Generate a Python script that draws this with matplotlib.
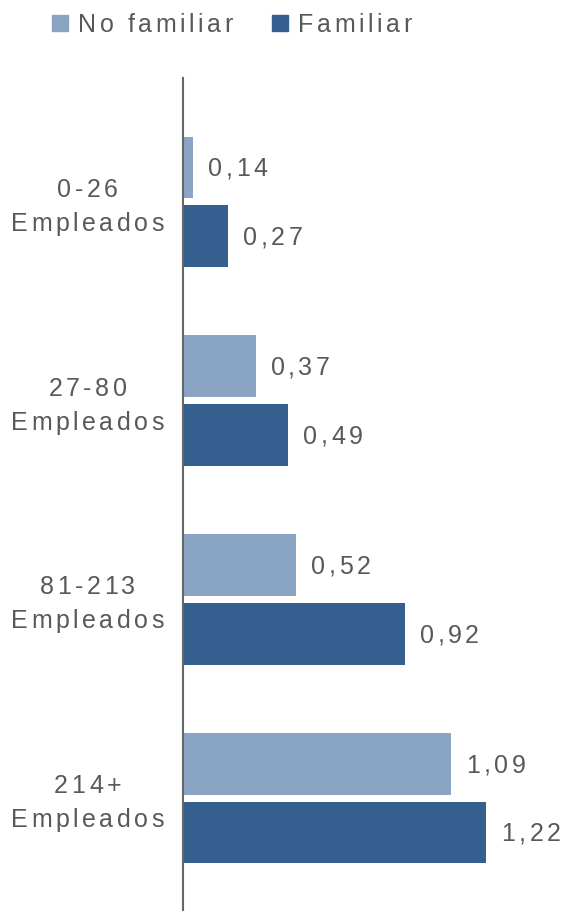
import matplotlib
matplotlib.use("Agg")
import matplotlib.pyplot as plt
from matplotlib import font_manager as fm
from matplotlib.ft2font import FT2Font
from matplotlib.transforms import offset_copy, IdentityTransform

categories = ["0-26\nEmpleados", "27-80\nEmpleados", "81-213\nEmpleados", "214+\nEmpleados"]
no_familiar = [0.14, 0.37, 0.52, 1.09]
familiar = [0.27, 0.49, 0.92, 1.22]
series_names = ["No familiar", "Familiar"]

light = "#8aa4c4"
dark = "#355f8f"
txt = "#595959"
FS = 18
SP = 3.5  # letter spacing in px
DPI = 100

fig = plt.figure(figsize=(5.68, 9.13), dpi=DPI)
ax = fig.add_axes([183 / 568, 3 / 913, 385 / 568, 832 / 913])

font_path = fm.findfont(fm.FontProperties(family="Liberation Sans"))
ft = FT2Font(font_path)
ft.set_size(FS, DPI)


def advances(s):
    return [ft.load_char(ord(c)).linearHoriAdvance / 65536 for c in s]


def spaced(x, y, s, transform, ha="left"):
    # draw text with letter spacing, y is the vertical centre
    adv = advances(s)
    total = sum(adv) + SP * (len(s) - 1)
    start = {"left": 0, "center": -total / 2, "right": -total}[ha]
    cap = 0.716 * FS * DPI / 72
    pos = start
    for c, a in zip(s, adv):
        tr = offset_copy(transform, fig=fig, x=pos, y=-cap / 2, units="dots")
        fig.text(x, y, c, transform=tr, fontsize=FS, family="Liberation Sans",
                 color=txt, ha="left", va="baseline")
        pos += a + SP


ys = list(range(len(categories)))
h = 0.31
off = 0.173
ax.barh([y - off for y in ys], no_familiar, height=h, color=light)
ax.barh([y + off for y in ys], familiar, height=h, color=dark)

ax.set_xlim(0.103, 1.52)
ax.set_ylim(3.563, -0.623)
for s in ["top", "right", "bottom"]:
    ax.spines[s].set_visible(False)
ax.spines["left"].set_color("#666666")
ax.spines["left"].set_linewidth(1.5)
ax.set_xticks([])
ax.set_yticks([])

lab_tr = offset_copy(ax.transData, fig=fig, x=15, y=0, units="dots")
for y, v in zip(ys, no_familiar):
    spaced(v, y - off, f"{v:.2f}".replace(".", ","), lab_tr)
for y, v in zip(ys, familiar):
    spaced(v, y + off, f"{v:.2f}".replace(".", ","), lab_tr)

# category labels, centred at x=87px
ident = IdentityTransform()
for y, lab in zip(ys, categories):
    l1, l2 = lab.split("\n")
    base = ax.transData.transform((0.2, y))[1]
    spaced(87.5, base + 14, l1, ident, "center")
    spaced(87.5, base - 20, l2, ident, "center")

# legend
legend_y = 913 - 23
for x0, col, name in [(52, light, series_names[0]), (272, dark, series_names[1])]:
    fig.patches.append(plt.Rectangle((x0, legend_y - 8), 16, 16, color=col,
                                     transform=ident, figure=fig))
    spaced(x0 + 26, legend_y, name, ident)

fig.savefig("out.png", dpi=DPI)
